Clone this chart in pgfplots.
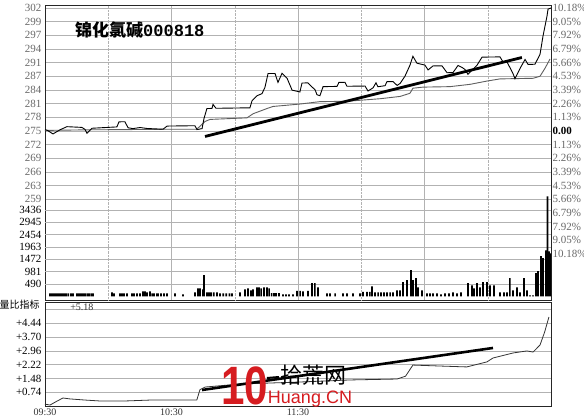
\documentclass[border=0pt]{standalone}
\usepackage{pgfplots}
\pgfplotsset{compat=1.18}
\usepackage{fontspec}
\setmainfont{Liberation Serif}
\newfontfamily\cjk{Noto Sans CJK SC}
\newfontfamily\lsans{Liberation Sans}
\newfontfamily\lmono{Liberation Mono}
\definecolor{gridc}{RGB}{178,178,178}
\definecolor{lblc}{RGB}{105,105,105}
\definecolor{avgc}{RGB}{95,95,95}
\definecolor{wmred}{RGB}{214,28,32}
\pgfplotsset{
  panel/.style={scale only axis, width=506pt, xmin=0, xmax=240,
    anchor=south west,
    axis line style={black!85, line width=0.6pt},
    tick style={draw=none},
    major grid style={gridc, line width=0.5pt},
    yticklabel style={font=\fontsize{11}{11}\selectfont},
  }
}
\begin{document}
\begin{tikzpicture}
\path[use as bounding box] (0pt,0pt) rectangle (584pt,418pt);
\fill[white] (0pt,0pt) rectangle (584pt,418pt);

% ---------- price panel (percent change) ----------
\begin{axis}[panel, at={(45pt,118pt)}, height=295pt,
  ymin=-13.97, ymax=10.42,
  xtick={60,120,180}, xticklabels={}, xmajorgrids,
  extra x ticks={30,90,150,210}, extra x tick labels={},
  extra x tick style={grid style={gridc, densely dotted, line width=0.6pt}},
  ytick={-5.65,-4.52,-3.39,-2.26,-1.13,0,1.13,2.26,3.39,4.52,5.65,6.78,7.91,9.04,10.17},
  yticklabels={259,263,266,269,272,275,278,281,284,287,291,294,297,299,302},
  yticklabel style={text=lblc},
  ymajorgrids]
% average price line
\addplot[avgc, line width=0.9pt] coordinates {
(0,0.05)(20,0.1)(40,0.12)(60,0.15)(72,0.15)(75.9,0.79)(78.3,0.96)(95.8,1.09)(98.7,1.43)
(105.3,1.86)(108.1,2.03)(120.9,2.23)(130.4,2.43)(143.2,2.46)(158.9,2.67)(168.4,2.86)
(173.1,3.12)(174.5,3.54)(179.3,3.63)(192.1,3.67)(201.6,3.86)(209.6,4.13)(215.8,4.31)
(231.5,4.36)(234.8,4.53)(237.2,5.2)(239.5,5.95)};
% price line
\addplot[black, line width=0.9pt] coordinates {
(0,0.1)(0.9,0.08)(3.8,-0.24)(7.1,0.10)(10.4,0.36)(17.5,0.30)(19,0.13)(19.9,-0.19)(22.3,0.23)
(34.1,0.34)(35.1,0.76)(37.9,0.77)(39.4,0.27)(41.7,0.2)(45.1,0.29)(48.4,0.21)(56,0.15)(57.9,0.41)
(71.1,0.44)(72.1,0.12)(74.5,0.2)(75.4,1.03)(76.8,1.86)(79.2,1.87)(79.7,2.2)(81.1,1.88)(97.2,1.92)
(98.2,2.5)(100.6,2.92)(102.9,3.09)(104.3,3.59)(105.8,4.76)(109.1,4.76)(110.5,4.02)(112.4,4.77)
(114.8,4.37)(117.2,3.38)(120.9,3.23)(121.9,3.97)(124.7,3.98)(126.6,3.65)(128.1,3.41)(129,3.0)
(130.4,2.92)(131.9,3.67)(138.5,3.69)(139.4,4.02)(142.3,4.03)(143.2,3.7)(151.8,3.72)(153.2,3.31)
(155.6,3.57)(157,3.99)(157.9,3.66)(161.3,3.75)(162.2,4.08)(165.1,4.09)(167,3.77)(168.4,3.93)
(170.7,4.52)(173.1,5.44)(174.5,6.18)(176.4,5.61)(180.2,5.45)(181.7,5.05)(184,5.38)(188.3,5.39)
(190.7,4.82)(193.5,4.83)(195.9,5.42)(197.8,5.26)(199.2,5.09)(200.6,4.69)(204.9,5.44)(207.3,6.11)
(215.8,6.13)(217.2,5.72)(219.1,5.73)(222,4.74)(222.9,4.33)(225.3,5.17)(227.7,5.92)(229.1,5.51)
(232.4,5.52)(234.8,6.35)(236.2,7.84)(238.1,9.5)(238.6,10.08)(240,10.17)};
% hand-drawn trend line
\addplot[black, line width=2.8pt] coordinates {(75.9,-0.45)(226.2,6.08)};
\end{axis}

% ---------- right percent labels ----------
\begin{axis}[scale only axis, width=506pt, height=295pt, at={(45pt,118pt)}, anchor=south west,
  xmin=0, xmax=240, ymin=-13.97, ymax=10.42,
  axis x line=none, axis y line*=right, axis line style={draw=none}, tick style={draw=none},
  ytick={-10.17,-9.04,-7.91,-6.78,-5.65,-4.52,-3.39,-2.26,-1.13,0,1.13,2.26,3.39,4.52,5.65,6.78,7.91,9.04,10.17},
  yticklabels={10.18\%,9.05\%,7.92\%,6.79\%,5.66\%,4.53\%,3.39\%,2.26\%,1.13\%,{\color{black}\bfseries 0.00},1.13\%,2.26\%,3.39\%,4.53\%,5.66\%,6.79\%,7.92\%,9.05\%,10.18\%},
  yticklabel style={font=\fontsize{11}{11}\selectfont, text=lblc, anchor=west, xshift=-2pt}]
\addplot[draw=none] coordinates {(0,0)};
\end{axis}

% ---------- volume ----------
\begin{axis}[scale only axis, width=506pt, height=295pt, at={(45pt,118pt)}, anchor=south west,
  xmin=0, xmax=240, ymin=-147, ymax=11594,
  axis x line=none, axis line style={draw=none}, tick style={draw=none},
  ytick={490,981,1472,1963,2454,2945,3436},
  yticklabels={490,981,1472,1963,2454,2945,3436},
  yticklabel style={font=\fontsize{11}{11}\selectfont, text=black},
  ymajorgrids, major grid style={gridc, line width=0.5pt}]
\addplot[ybar, bar width=1.7pt, fill=black, draw=none] coordinates {
(2.4,120)(3.3,120)(4.3,120)(5.2,120)(6.2,120)(7.1,120)
(8.1,120)(9.0,120)(10.0,120)(11.0,120)(12.3,120)(13.3,120)
(15.2,120)(16.1,120)(17.1,120)(18.0,120)(19.0,120)(20.0,120)(21.0,120)(22.0,120)(22.8,120)
(31.8,160)(32.7,120)(35.6,120)(36.5,120)(37.5,120)(38.9,120)
(41.3,120)(42.2,120)(43.6,120)(45.1,120)(46.5,200)(47.4,200)(48.4,160)(49.8,200)
(50.8,120)(51.7,120)(53.1,120)(53.6,120)(55.0,120)(56.4,120)(57.9,120)
(61.7,120)(65.5,80)(71.1,160)(72.6,320)(73.5,320)(74.9,280)(75.4,840)
(76.8,160)(77.8,160)(78.7,160)(80.0,160)(81.6,160)
(83.0,120)(84.5,120)(86.0,120)(87.5,120)(88.7,120)
(92.5,160)(94.9,280)(96.3,320)(97.7,240)(98.7,280)
(100.6,360)(101.5,360)(102.5,320)(103.9,360)(105.3,360)(106.3,320)
(107.5,130)(108.6,130)(109.6,130)(111,130)
(112.9,80)(114.3,80)(115.7,80)(117.6,80)
(119.5,220)(121,220)(122.4,200)(124.7,220)(126.6,520)(128,520)(129.5,360)
(133.8,120)(135.2,120)(137.6,120)(141.3,120)(143.2,120)(146.1,120)(149.4,120)
(150.8,180)(152.7,180)(154.1,180)(155.1,400)
(156.5,160)(158,160)(159.4,160)(160.8,160)(162.2,160)(163.7,160)(165.1,160)
(167,240)(168.4,240)(169.8,560)(171.7,640)(173.6,1040)(174.5,640)(176,720)(176.9,360)(178.8,240)
(181.2,120)(182.6,120)(184,120)
(185.9,120)(187.8,80)(189.7,120)(191.6,120)(193.5,160)(195.4,120)(197.3,160)
(200.6,520)(202.5,440)(203.5,320)(204.9,520)(206.3,360)(207.7,560)(209.6,560)(211.1,440)(213,440)
(215.8,160)(217.7,160)(219.1,160)(220.5,720)(222,240)(223.9,360)(225.3,160)(227.2,720)(228.6,240)
(230,40)(231.5,40)(232.9,920)(233.8,1000)(235.3,1600)(236.2,1520)(237.6,1830)(238.3,3980)(239.1,1790)(240,1710)};
\end{axis}

% ---------- volume ratio indicator ----------
\begin{axis}[panel, at={(45pt,12pt)}, height=104pt,
  ymin=0, ymax=5.59,
  xtick={0,60,120}, xticklabels={09:30,10:30,11:30},
  xticklabel style={font=\fontsize{10}{10}\selectfont, text=black!80, yshift=1pt},
  ytick={0.74,1.48,2.22,2.96,3.70,4.44,5.18},
  yticklabels={+0.74,+1.48,+2.22,+2.96,+3.70,+4.44,{}},
  ymajorgrids]
\addplot[black!80, line width=0.8pt] coordinates {
(0,0.1)(2.4,0.05)(4.7,0.2)(8.5,0.43)(11.9,0.38)(19,0.32)(26,0.27)(38,0.27)(50,0.32)(59,0.32)
(72,0.32)(73.5,0.88)(76,1.02)(92.5,1.18)(121,1.29)(144.7,1.4)(167,1.45)(171,1.6)(174.5,2.2)
(187,2.15)(200,2.1)(209.6,2.37)(212.5,2.58)(222,2.85)(228.6,2.96)(231.5,2.9)(234.8,3.28)
(237,3.98)(239,4.78)};
\addplot[black, line width=2.6pt] coordinates {(74.5,0.86)(212.5,3.12)};
\node[font=\fontsize{10}{10}\selectfont, text=black!80] at (axis cs:17.5,5.3) {+5.18};
\end{axis}

\node[anchor=west, font=\cjk\fontsize{10}{10}\selectfont] at (-4pt,113pt) {量比指标};

% ---------- title ----------
\node[anchor=west, inner sep=0pt] at (75pt,388pt) {\cjk\bfseries\fontsize{17}{17}\selectfont 锦化氯碱\lmono\bfseries 000818};

% ---------- watermark ----------
\node[inner sep=0pt, text=wmred] at (245pt,32pt) {\scalebox{0.78}[1]{\lsans\bfseries\fontsize{54}{54}\selectfont 10}};
\draw[black, line width=2pt] (267pt,40pt) -- (279pt,41pt);
\node[inner sep=0pt] at (313pt,43pt) {\cjk\fontsize{22}{22}\selectfont 拾荒网};
\node[inner sep=0pt, text=wmred] at (310pt,19pt) {\lsans\fontsize{18}{18}\selectfont Huang.CN};
\end{tikzpicture}
\end{document}
